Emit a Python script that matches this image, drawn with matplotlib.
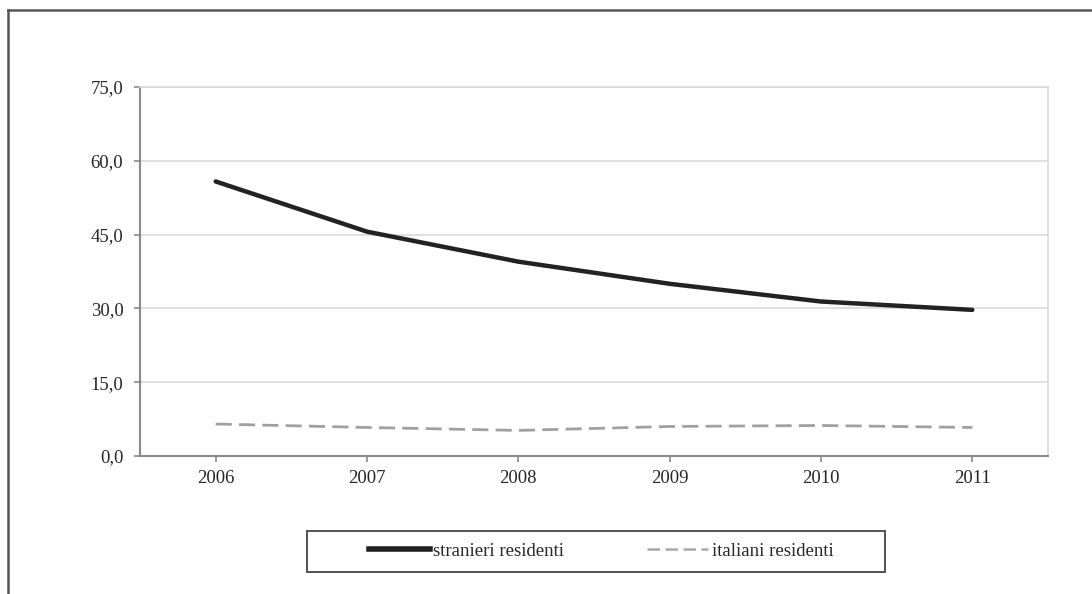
import matplotlib
matplotlib.use("Agg")
import matplotlib.pyplot as plt
from matplotlib.lines import Line2D
from matplotlib.patches import Rectangle

years = ["2006", "2007", "2008", "2009", "2010", "2011"]
stranieri = [55.8, 45.6, 39.5, 35.0, 31.4, 29.7]
italiani = [6.5, 5.8, 5.2, 6.0, 6.2, 5.8]
yticks = [0, 15, 30, 45, 60, 75]
labels = ["stranieri residenti", "italiani residenti"]

plt.rcParams['font.family'] = ['Liberation Serif', 'DejaVu Serif']
FS = 13.5

fig = plt.figure(figsize=(10.92, 5.94), dpi=100)
ax = fig.add_axes([140/1092, 1-456/594, (1048-140)/1092, (456-87)/594])

x = list(range(len(years)))
ax.plot(x, stranieri, color='#222222', lw=3.2, solid_capstyle='round', zorder=3)
ax.plot(x, italiani, color='#a0a0a0', lw=2.0, dashes=(5.8, 2.6), zorder=3)

ax.set_xlim(-0.5, len(years)-0.5)
ax.set_ylim(0, 75)
ax.set_yticks(yticks)
ax.set_yticklabels([f"{v:.1f}".replace('.', ',') for v in yticks])
ax.set_xticks(x)
ax.set_xticklabels(years)
ax.yaxis.grid(True, color='#d9d9d9', lw=1.2)
ax.set_axisbelow(True)
for s in ['top', 'right']:
    ax.spines[s].set_color('#d9d9d9')
    ax.spines[s].set_linewidth(1.2)
for s in ['left', 'bottom']:
    ax.spines[s].set_color('#8a8a8a')
    ax.spines[s].set_linewidth(1.5)
ax.tick_params(axis='both', colors='#8a8a8a', length=4, width=1.2, labelcolor='#262626', labelsize=FS)
ax.tick_params(axis='x', pad=6)
ax.tick_params(axis='y', pad=8)

handles = [Line2D([], [], color='#222222', lw=4.0),
           Line2D([], [], color='#a8a8a8', lw=1.8, dashes=(5.0, 2.2))]
leg = fig.legend(handles, labels, loc='center', ncol=2,
                 bbox_to_anchor=(601/1092, 1-551/594),
                 frameon=False, fontsize=FS, handlelength=3.25, handletextpad=0.2,
                 columnspacing=4.4, borderpad=0.0)
for t in leg.get_texts():
    t.set_color('#262626')

# legend box
fig.add_artist(Rectangle((307/1092, 1-572/594), (885-307)/1092, (572-531)/594,
                         transform=fig.transFigure, fill=False, edgecolor='#444444', lw=1.3))

# outer frame (top and left edges)
fig.add_artist(Line2D([8/1092, 1.0], [1-10/594, 1-10/594], transform=fig.transFigure, color='#555555', lw=1.8))
fig.add_artist(Line2D([8/1092, 8/1092], [0, 1-10/594], transform=fig.transFigure, color='#555555', lw=1.8))

fig.savefig("out.png", dpi=100)
